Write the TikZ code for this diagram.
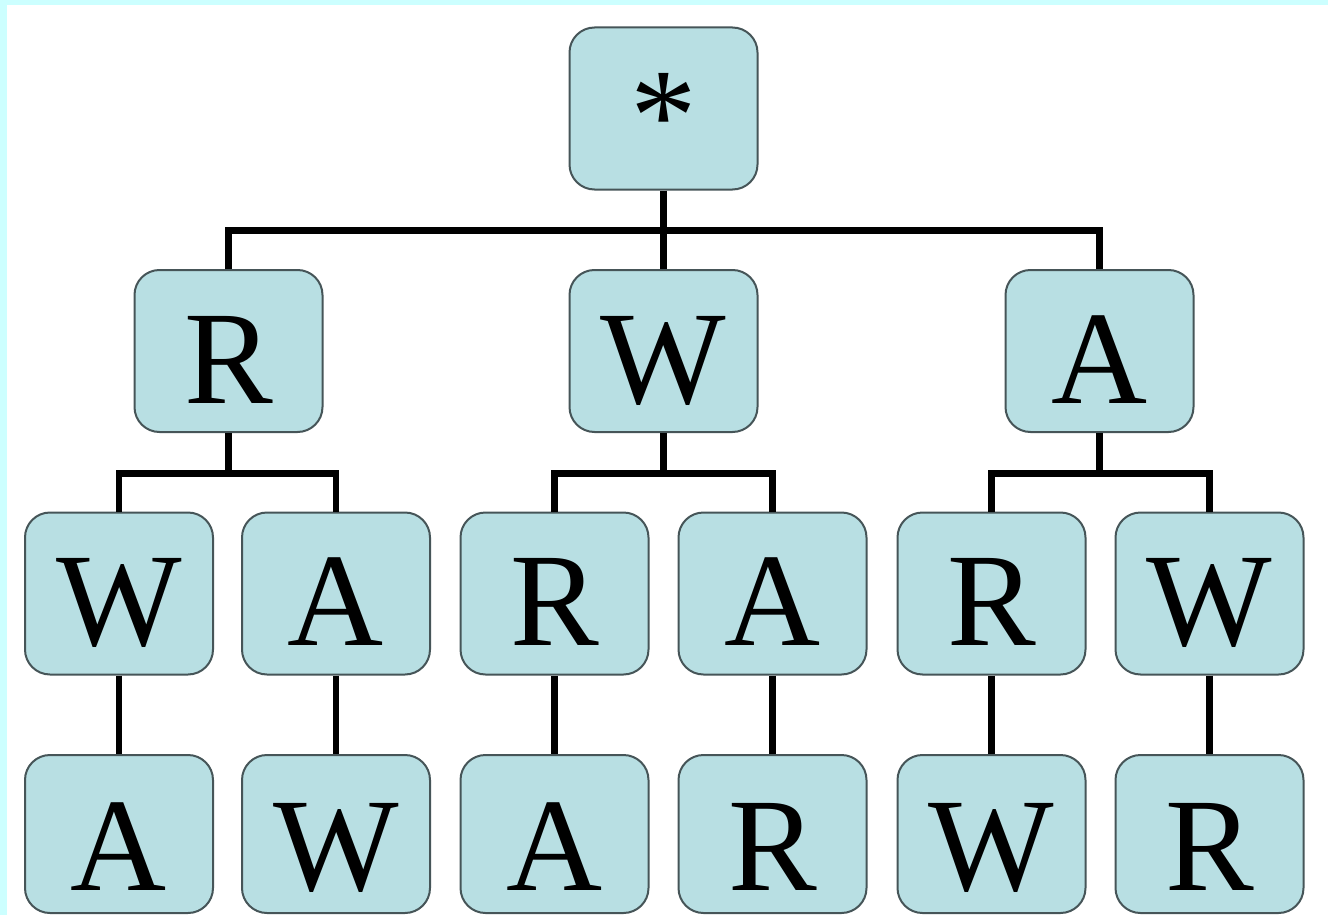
\documentclass[tikz,border=0pt]{standalone}
\usepackage{fontspec}
\setmainfont{LiberationSerif}[Extension=.ttf, UprightFont=*-Regular]
\definecolor{boxfill}{RGB}{184,223,227}
\definecolor{boxline}{RGB}{70,85,88}
\definecolor{framecyan}{RGB}{204,255,255}
\tikzset{
  treebox/.style={draw=boxline, line width=2pt, fill=boxfill, rounded corners=25pt,
    minimum width=188pt, minimum height=162pt, inner sep=0pt,
    text height=104pt, text depth=0pt, font=\fontsize{133}{133}\selectfont},
  leafbox/.style={treebox, minimum height=158pt, text height=112pt},
  link/.style={line width=6.5pt, black}
}
\begin{document}
\begin{tikzpicture}[x=1pt,y=-1pt]
\useasboundingbox (0,0) rectangle (1328,915);
\fill[framecyan] (0,0) rectangle (1328,915);
\fill[white] (7,5) rectangle (1328,915);
% connectors level 1 -> 2
\path (663.5,108.5) coordinate (topc);
% level 1
\node[treebox] (top) at (663.5,108.5) {*};
% level 2
\node[treebox] (r) at (228.5,351) {R};
\node[treebox] (w) at (663.5,351) {W};
\node[treebox] (a) at (1099.5,351) {A};
% level 3
\node[treebox] (rw) at (119,593.5) {W};
\node[treebox] (ra) at (336,593.5) {A};
\node[treebox] (wr) at (554.5,593.5) {R};
\node[treebox] (wa) at (772.5,593.5) {A};
\node[treebox] (ar) at (991.5,593.5) {R};
\node[treebox] (aw) at (1209.5,593.5) {W};
% level 4
\node[leafbox] (rwa) at (119,834) {A};
\node[leafbox] (raw) at (336,834) {W};
\node[leafbox] (wra) at (554.5,834) {A};
\node[leafbox] (war) at (772.5,834) {R};
\node[leafbox] (arw) at (991.5,834) {W};
\node[leafbox] (awr) at (1209.5,834) {R};
% connectors level 1 -> 2
\draw[link] (top.south) -- (w.north);
\path (top.south) -- ++(0,40) coordinate (j1);
\draw[link] (r.north) |- (j1) -| (a.north);
% level 2 -> 3
\draw[link] (r.south) -- ++(0,40.5) coordinate (jr);
\draw[link] (rw.north) |- (jr) -| (ra.north);
\draw[link] (w.south) -- ++(0,40.5) coordinate (jw);
\draw[link] (wr.north) |- (jw) -| (wa.north);
\draw[link] (a.south) -- ++(0,40.5) coordinate (ja);
\draw[link] (ar.north) |- (ja) -| (aw.north);
% level 3 -> 4
\draw[link] (rw.south) -- (rwa.north);
\draw[link] (ra.south) -- (raw.north);
\draw[link] (wr.south) -- (wra.north);
\draw[link] (wa.south) -- (war.north);
\draw[link] (ar.south) -- (arw.north);
\draw[link] (aw.south) -- (awr.north);
\end{tikzpicture}
\end{document}
